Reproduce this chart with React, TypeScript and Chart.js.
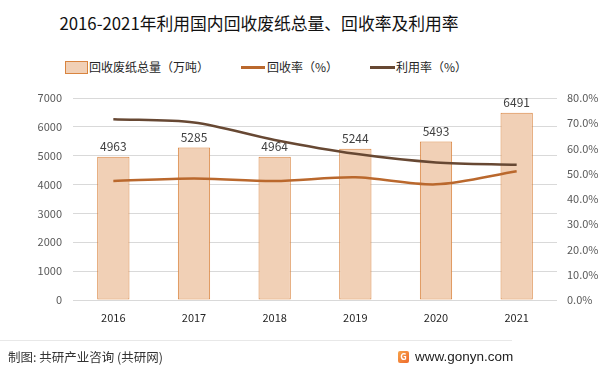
import React, { useEffect, useRef } from "react";
import { Chart, registerables } from "chart.js";

Chart.register(...registerables);

const years = ["2016", "2017", "2018", "2019", "2020", "2021"];
const paperVolume = [4963, 5285, 4964, 5244, 5493, 6491];
const recoveryRate = [47.1, 48.1, 47.1, 48.6, 45.8, 51.0];
const utilizationRate = [71.6, 70.3, 63.4, 57.9, 54.5, 53.6];
const leftTicks = [0, 1000, 2000, 3000, 4000, 5000, 6000, 7000];

const FONT = "'Noto Sans CJK SC', 'Noto Sans', sans-serif";
const BAR_FILL = "#F1D0B6";
const BAR_BORDER = "#D9843F";
const RECOVERY_COLOR = "#BA682D";
const UTIL_COLOR = "#674833";

const barLabelPlugin = {
  id: "barLabels",
  afterDatasetDraw(chart: any, args: any) {
    if (args.index !== 0) return;
    const ctx = chart.ctx;
    const meta = chart.getDatasetMeta(0);
    ctx.save();
    ctx.font = `12px ${FONT}`;
    ctx.fillStyle = "#404040";
    ctx.textAlign = "center";
    ctx.textBaseline = "bottom";
    meta.data.forEach((el: any, i: number) => {
      ctx.fillText(String(paperVolume[i]), el.x, el.y - 4);
    });
    ctx.restore();
  },
};

export default function App() {
  const ref = useRef<HTMLCanvasElement>(null);
  useEffect(() => {
    if (!ref.current) return;
    const chart = new Chart(ref.current, {
      type: "bar",
      data: {
        labels: years,
        datasets: [
          {
            type: "bar",
            label: "回收废纸总量（万吨）",
            data: paperVolume,
            backgroundColor: BAR_FILL,
            borderColor: BAR_BORDER,
            borderWidth: 1,
            borderSkipped: false,
            categoryPercentage: 1,
            barPercentage: 0.4,
            yAxisID: "y",
            order: 3,
          },
          {
            type: "line",
            label: "回收率（%）",
            data: recoveryRate,
            borderColor: RECOVERY_COLOR,
            borderWidth: 2.5,
            pointRadius: 0,
            tension: 0.3,
            yAxisID: "y1",
            order: 2,
          },
          {
            type: "line",
            label: "利用率（%）",
            data: utilizationRate,
            borderColor: UTIL_COLOR,
            borderWidth: 2.5,
            pointRadius: 0,
            tension: 0.3,
            yAxisID: "y1",
            order: 1,
          },
        ] as any,
      },
      options: {
        animation: false,
        responsive: false,
        layout: { padding: { left: 0, right: 0, top: 98, bottom: 48 } },
        plugins: {
          legend: { display: false },
          title: { display: false },
          tooltip: { enabled: false },
        },
        scales: {
          x: {
            grid: { display: false },
            border: { display: false },
            ticks: {
              color: "#262626",
              font: { family: FONT, size: 11 },
              padding: 3,
            },
            afterFit: (s: any) => {
              s.height = 24;
            },
          },
          y: {
            position: "left",
            min: 0,
            max: 7000,
            afterBuildTicks: (s: any) => {
              s.ticks = leftTicks.map((v) => ({ value: v }));
            },
            grid: { color: "#D9D9D9", drawTicks: false, lineWidth: 1 },
            border: { display: false },
            ticks: {
              color: "#595959",
              font: { family: FONT, size: 11 },
              padding: 11,
              callback: (v: any) => String(v),
            },
            afterFit: (s: any) => {
              s.width = 73;
            },
          },
          y1: {
            position: "right",
            min: 0,
            max: 80,
            grid: { display: false, drawTicks: false },
            border: { display: false },
            ticks: {
              stepSize: 10,
              color: "#595959",
              font: { family: FONT, size: 11 },
              padding: 10,
              callback: (v: any) => Number(v).toFixed(1) + "%",
            },
            afterFit: (s: any) => {
              s.width = 47;
            },
          },
        },
      },
      plugins: [barLabelPlugin],
    });
    return () => chart.destroy();
  }, []);

  const legendText: React.CSSProperties = {
    position: "absolute",
    top: 58,
    fontFamily: FONT,
    fontSize: 12,
    color: "#262626",
    lineHeight: "18px",
    whiteSpace: "nowrap",
  };

  return (
    <div
      style={{
        position: "fixed",
        left: 0,
        top: 0,
        width: 604,
        height: 372,
        background: "#fff",
        overflow: "hidden",
      }}
    >
      <div
        style={{
          position: "absolute",
          left: 0,
          width: 518,
          top: 10,
          textAlign: "center",
          fontFamily: FONT,
          fontSize: 16.8,
          color: "#111",
          lineHeight: "26px",
          whiteSpace: "nowrap",
        }}
      >
        2016-2021年利用国内回收废纸总量、回收率及利用率
      </div>
      <div
        style={{
          position: "absolute",
          left: 65,
          top: 61,
          width: 21,
          height: 11,
          background: BAR_FILL,
          border: `1px solid ${BAR_BORDER}`,
        }}
      />
      <div style={{ ...legendText, left: 89 }}>回收废纸总量（万吨）</div>
      <div
        style={{
          position: "absolute",
          left: 241,
          top: 66,
          width: 24,
          height: 3,
          background: RECOVERY_COLOR,
        }}
      />
      <div style={{ ...legendText, left: 267 }}>回收率（%）</div>
      <div
        style={{
          position: "absolute",
          left: 370,
          top: 66,
          width: 25,
          height: 3,
          background: UTIL_COLOR,
        }}
      />
      <div style={{ ...legendText, left: 396 }}>利用率（%）</div>
      <canvas
        ref={ref}
        width={604}
        height={372}
        style={{ position: "absolute", left: 0, top: 0, width: 604, height: 372 }}
      />
      <div
        style={{
          position: "absolute",
          left: 0,
          top: 340,
          width: 512,
          height: 1,
          background: "#E8E8E8",
        }}
      />
      <div
        style={{
          position: "absolute",
          left: 8,
          top: 348,
          fontFamily: FONT,
          fontSize: 12.5,
          color: "#333",
          lineHeight: "18px",
          whiteSpace: "nowrap",
        }}
      >
        制图: 共研产业咨询 (共研网)
      </div>
      <div
        style={{
          position: "absolute",
          left: 398,
          top: 351,
          width: 11,
          height: 12,
          borderRadius: 2,
          background: "linear-gradient(135deg, #F7A34A, #EE6A2C)",
          color: "#fff",
          fontFamily: FONT,
          fontSize: 9,
          fontWeight: 700,
          lineHeight: "12px",
          textAlign: "center",
        }}
      >
        G
      </div>
      <div
        style={{
          position: "absolute",
          left: 415,
          top: 348,
          fontFamily: "'Liberation Sans', Arial, sans-serif",
          fontSize: 13.5,
          color: "#222",
          lineHeight: "18px",
          whiteSpace: "nowrap",
        }}
      >
        www.gonyn.com
      </div>
    </div>
  );
}
